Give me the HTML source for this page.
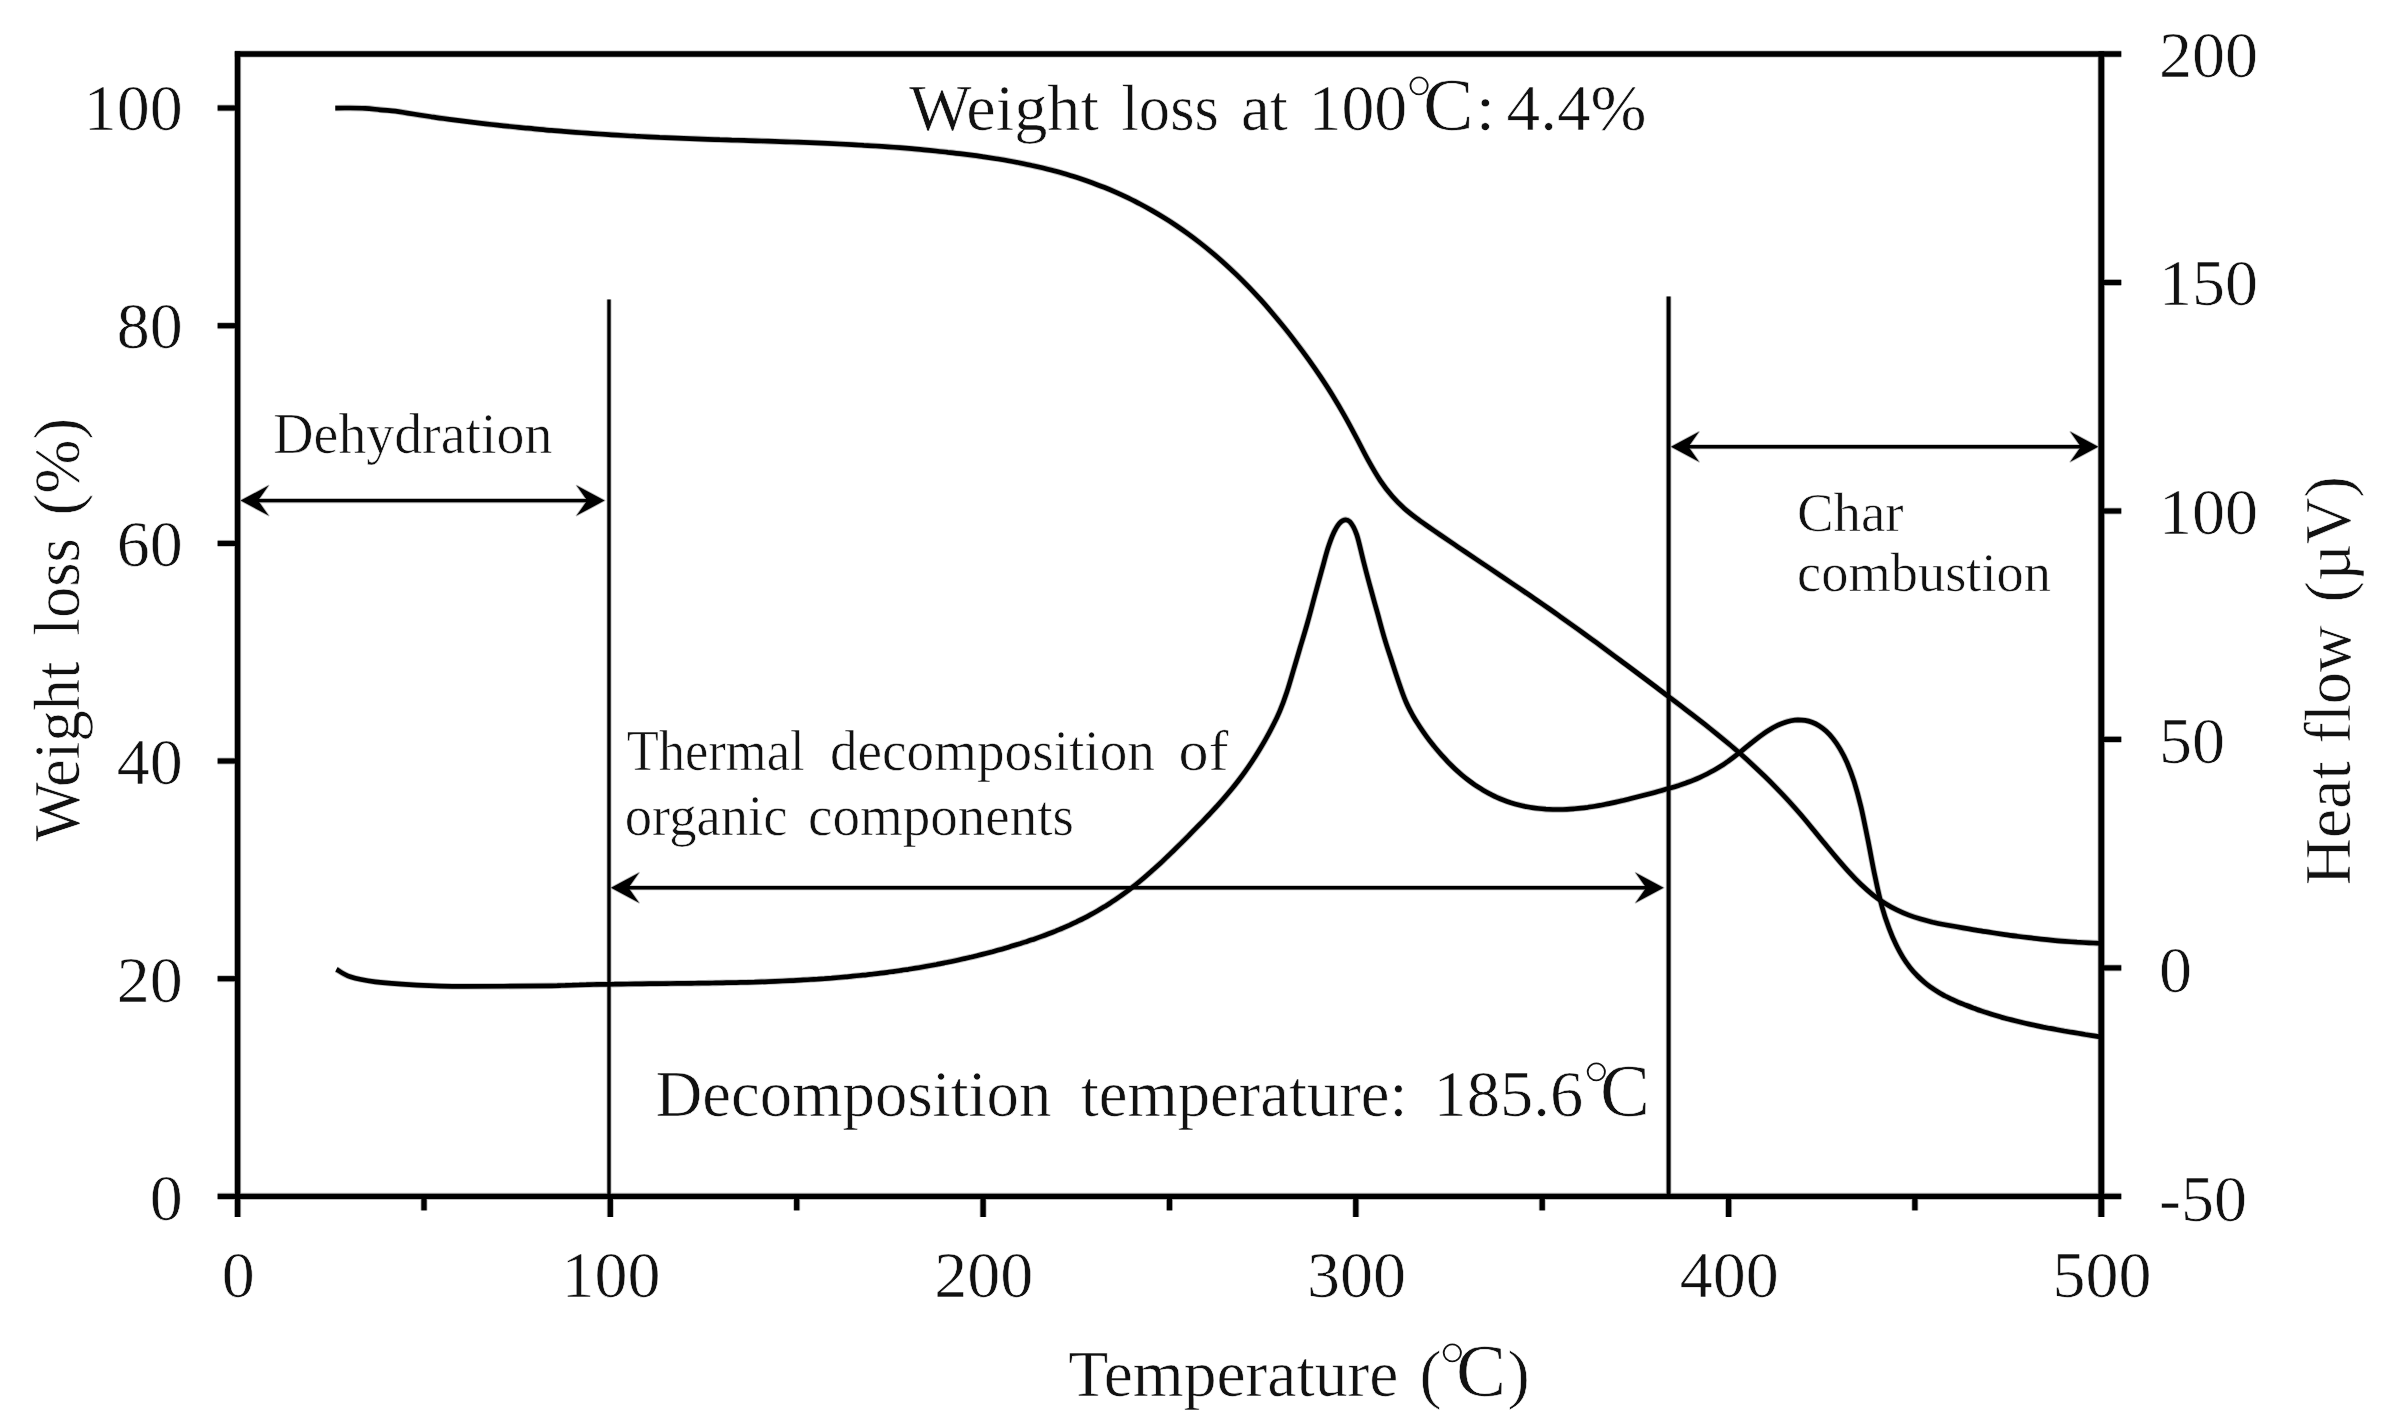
<!DOCTYPE html>
<html lang="en"><head><meta charset="utf-8"><title>TG-DTA curves</title>
<style>html,body{margin:0;padding:0;background:#fff;}body{width:2388px;height:1428px;overflow:hidden;}svg{display:block;}text{font-family:'Liberation Serif','Noto Serif CJK SC',serif;fill:#111;}</style>
</head><body>
<svg width="2388" height="1428" viewBox="0 0 2388 1428">
<rect width="2388" height="1428" fill="#fff"/>
<g opacity="0.26">
<g stroke="#000" fill="none" stroke-linecap="butt">
<line x1="237.6" y1="51.3" x2="237.6" y2="1216.9" stroke-width="7.1"/>
<line x1="2101.3" y1="51.3" x2="2101.3" y2="1216.9" stroke-width="7.5"/>
<line x1="234.9" y1="54.0" x2="2121.3" y2="54.0" stroke-width="7.1"/>
<line x1="217.6" y1="1196.4" x2="2121.3" y2="1196.4" stroke-width="7.1"/>
</g>
<g stroke="#000" stroke-width="6.9" fill="none" stroke-linecap="butt">
<line x1="217.6" y1="978.7" x2="237.6" y2="978.7"/>
<line x1="217.6" y1="761.0" x2="237.6" y2="761.0"/>
<line x1="217.6" y1="543.4" x2="237.6" y2="543.4"/>
<line x1="217.6" y1="325.7" x2="237.6" y2="325.7"/>
<line x1="217.6" y1="108.0" x2="237.6" y2="108.0"/>
<line x1="2101.3" y1="967.9" x2="2121.3" y2="967.9"/>
<line x1="2101.3" y1="739.4" x2="2121.3" y2="739.4"/>
<line x1="2101.3" y1="511.0" x2="2121.3" y2="511.0"/>
<line x1="2101.3" y1="282.5" x2="2121.3" y2="282.5"/>
</g>
<g stroke="#000" stroke-width="7.0" fill="none" stroke-linecap="butt">
<line x1="424.0" y1="1196.4" x2="424.0" y2="1210.4"/>
<line x1="610.3" y1="1196.4" x2="610.3" y2="1217.0"/>
<line x1="796.7" y1="1196.4" x2="796.7" y2="1210.4"/>
<line x1="983.1" y1="1196.4" x2="983.1" y2="1217.0"/>
<line x1="1169.5" y1="1196.4" x2="1169.5" y2="1210.4"/>
<line x1="1355.8" y1="1196.4" x2="1355.8" y2="1217.0"/>
<line x1="1542.2" y1="1196.4" x2="1542.2" y2="1210.4"/>
<line x1="1728.6" y1="1196.4" x2="1728.6" y2="1217.0"/>
<line x1="1914.9" y1="1196.4" x2="1914.9" y2="1210.4"/>
</g>
<g stroke="#000" stroke-width="6.4" fill="none" stroke-linecap="butt" stroke-linejoin="round">
<path d="M335.3 108.1 C337.8 108.1 345.0 108.0 350.0 108.0 C355.0 108.0 360.2 108.0 365.2 108.3 C370.2 108.6 375.0 109.3 380.0 109.8 C385.0 110.3 390.8 110.6 395.4 111.1 C400.0 111.7 403.4 112.5 407.4 113.1 C411.4 113.7 415.4 114.4 419.4 115.0 C423.4 115.6 427.4 116.2 431.4 116.8 C435.4 117.3 439.4 117.9 443.4 118.5 C447.4 119.0 451.5 119.6 455.5 120.1 C459.5 120.6 463.5 121.1 467.5 121.6 C471.5 122.1 475.5 122.6 479.5 123.1 C483.5 123.6 487.5 124.0 491.5 124.5 C495.5 124.9 499.5 125.4 503.5 125.8 C507.5 126.2 511.5 126.6 515.5 127.0 C519.5 127.5 523.5 127.8 527.5 128.2 C531.5 128.6 535.5 129.0 539.5 129.3 C543.5 129.7 547.5 130.1 551.5 130.4 C555.6 130.7 559.6 131.1 563.6 131.4 C567.6 131.7 571.6 132.0 575.6 132.3 C579.6 132.6 583.6 132.9 587.6 133.2 C591.6 133.5 595.6 133.7 599.6 134.0 C603.6 134.3 607.6 134.5 611.6 134.8 C615.6 135.0 619.6 135.3 623.6 135.5 C627.6 135.7 631.6 135.9 635.6 136.2 C639.6 136.4 643.6 136.6 647.6 136.8 C651.6 137.0 655.6 137.2 659.6 137.4 C663.7 137.5 667.7 137.7 671.7 137.9 C675.7 138.1 679.7 138.2 683.7 138.4 C687.7 138.5 691.7 138.7 695.7 138.8 C699.7 139.0 703.7 139.1 707.7 139.3 C711.7 139.4 715.7 139.5 719.7 139.7 C723.7 139.8 727.7 139.9 731.7 140.1 C735.7 140.2 739.7 140.3 743.7 140.4 C747.7 140.6 751.7 140.7 755.7 140.8 C759.7 140.9 763.7 141.1 767.7 141.2 C771.8 141.3 775.8 141.4 779.8 141.6 C783.8 141.7 787.8 141.9 791.8 142.0 C795.8 142.1 799.8 142.3 803.8 142.4 C807.8 142.6 811.8 142.7 815.8 142.9 C819.8 143.1 823.8 143.2 827.8 143.4 C831.8 143.6 835.8 143.8 839.8 144.0 C843.8 144.2 847.8 144.4 851.8 144.6 C855.8 144.8 859.8 145.0 863.8 145.3 C867.8 145.5 871.8 145.7 875.9 146.0 C879.9 146.3 883.9 146.5 887.9 146.8 C891.9 147.1 895.9 147.4 899.9 147.7 C903.9 148.0 907.9 148.4 911.9 148.7 C915.9 149.0 919.9 149.4 923.9 149.8 C927.9 150.2 931.9 150.6 935.9 151.0 C939.9 151.4 943.9 151.8 947.9 152.3 C951.9 152.7 955.9 153.2 959.9 153.7 C963.9 154.2 967.9 154.7 971.9 155.2 C975.9 155.7 979.9 156.3 984.0 156.9 C988.0 157.5 992.0 158.1 996.0 158.7 C1000.0 159.3 1004.0 160.0 1008.0 160.7 C1012.0 161.4 1016.0 162.2 1020.0 163.0 C1024.0 163.8 1028.0 164.6 1032.0 165.5 C1036.0 166.3 1040.0 167.3 1044.0 168.2 C1048.0 169.2 1052.0 170.2 1056.0 171.3 C1060.0 172.4 1064.0 173.5 1068.0 174.7 C1072.0 175.9 1076.0 177.2 1080.0 178.5 C1084.0 179.8 1088.0 181.2 1092.1 182.7 C1096.1 184.2 1100.1 185.7 1104.1 187.3 C1108.1 188.9 1112.1 190.6 1116.1 192.4 C1120.1 194.1 1124.1 196.0 1128.1 197.9 C1132.1 199.9 1136.1 201.9 1140.1 204.0 C1144.1 206.1 1148.1 208.3 1152.1 210.6 C1156.1 212.9 1160.1 215.3 1164.1 217.8 C1168.1 220.2 1172.1 222.8 1176.1 225.5 C1180.1 228.2 1184.1 231.0 1188.1 233.9 C1192.1 236.8 1196.2 239.9 1200.2 243.0 C1204.2 246.1 1208.2 249.4 1212.2 252.8 C1216.2 256.1 1220.2 259.6 1224.2 263.2 C1228.2 266.8 1232.2 270.6 1236.2 274.4 C1240.2 278.3 1244.2 282.3 1248.2 286.4 C1252.2 290.6 1256.2 294.8 1260.2 299.2 C1264.2 303.6 1268.2 308.2 1272.2 312.9 C1276.2 317.6 1280.2 322.4 1284.2 327.4 C1288.2 332.3 1292.2 337.5 1296.2 342.8 C1300.2 348.0 1304.3 353.5 1308.3 359.1 C1312.3 364.7 1316.3 370.4 1320.3 376.4 C1324.3 382.4 1328.3 388.5 1332.3 395.0 C1336.3 401.5 1340.3 408.2 1344.3 415.3 C1348.3 422.3 1352.3 429.9 1356.3 437.5 C1360.3 445.0 1364.3 453.2 1368.3 460.4 C1372.3 467.6 1376.3 474.6 1380.3 480.6 C1384.3 486.6 1388.3 491.7 1392.3 496.3 C1396.3 501.0 1400.3 504.8 1404.3 508.4 C1408.4 512.1 1412.4 515.1 1416.4 518.1 C1420.4 521.2 1424.4 523.9 1428.4 526.7 C1432.4 529.5 1436.4 532.2 1440.4 535.0 C1444.4 537.7 1448.4 540.4 1452.4 543.1 C1456.4 545.9 1460.4 548.6 1464.4 551.3 C1468.4 554.0 1472.4 556.7 1476.4 559.4 C1480.4 562.1 1484.4 564.8 1488.4 567.4 C1492.4 570.1 1496.4 572.8 1500.4 575.5 C1504.4 578.2 1508.4 580.9 1512.4 583.6 C1516.5 586.3 1520.5 589.0 1524.5 591.8 C1528.5 594.5 1532.5 597.2 1536.5 600.0 C1540.5 602.8 1544.5 605.5 1548.5 608.3 C1552.5 611.1 1556.5 613.9 1560.5 616.8 C1564.5 619.6 1568.5 622.5 1572.5 625.3 C1576.5 628.2 1580.5 631.1 1584.5 634.0 C1588.5 636.9 1592.5 639.8 1596.5 642.7 C1600.5 645.7 1604.5 648.6 1608.5 651.6 C1612.5 654.6 1616.5 657.5 1620.5 660.5 C1624.6 663.5 1628.6 666.5 1632.6 669.5 C1636.6 672.5 1640.6 675.5 1644.6 678.5 C1648.6 681.5 1652.6 684.5 1656.6 687.5 C1660.6 690.6 1664.6 693.6 1668.6 696.6 C1672.6 699.6 1676.6 702.7 1680.6 705.7 C1684.6 708.8 1688.6 711.8 1692.6 714.9 C1696.6 718.0 1700.6 721.1 1704.6 724.2 C1708.6 727.4 1712.6 730.6 1716.6 733.8 C1720.6 737.1 1724.6 740.4 1728.7 743.8 C1732.7 747.1 1736.7 750.6 1740.7 754.1 C1744.7 757.6 1748.7 761.2 1752.7 764.9 C1756.7 768.6 1760.7 772.4 1764.7 776.3 C1768.7 780.2 1772.7 784.2 1776.7 788.3 C1780.7 792.4 1784.7 796.6 1788.7 801.0 C1792.7 805.4 1796.7 809.9 1800.7 814.5 C1804.7 819.2 1808.7 824.0 1812.7 828.9 C1816.7 833.7 1820.7 838.7 1824.7 843.6 C1828.7 848.4 1832.7 853.4 1836.8 858.1 C1840.8 862.8 1844.8 867.5 1848.8 871.8 C1852.8 876.2 1856.8 880.4 1860.8 884.3 C1864.8 888.1 1868.8 891.6 1872.8 894.8 C1876.8 898.0 1880.8 900.7 1884.8 903.3 C1888.8 905.8 1892.8 908.0 1896.8 909.9 C1900.8 911.9 1904.8 913.6 1908.8 915.1 C1912.8 916.6 1916.8 917.9 1920.8 919.1 C1924.8 920.3 1928.8 921.2 1932.8 922.2 C1936.8 923.1 1940.8 923.9 1944.9 924.7 C1948.9 925.4 1952.9 926.1 1956.9 926.8 C1960.9 927.6 1964.9 928.3 1968.9 928.9 C1972.9 929.6 1976.9 930.3 1980.9 930.9 C1984.9 931.6 1988.9 932.2 1992.9 932.8 C1996.9 933.4 2000.9 934.0 2004.9 934.6 C2008.9 935.2 2012.9 935.7 2016.9 936.2 C2020.9 936.8 2024.9 937.3 2028.9 937.7 C2032.9 938.2 2036.9 938.7 2040.9 939.1 C2044.9 939.5 2049.0 939.9 2053.0 940.3 C2057.0 940.7 2061.0 941.0 2065.0 941.3 C2069.0 941.6 2073.0 941.9 2077.0 942.2 C2081.0 942.4 2085.0 942.6 2089.0 942.8 C2093.0 943.0 2099.0 943.2 2101.0 943.3"/>
<path d="M336.4 969.3 C338.7 970.5 343.8 974.7 350.3 976.8 C356.8 978.9 364.9 980.5 375.4 981.9 C385.9 983.2 398.5 984.1 413.1 984.9 C427.8 985.6 440.3 986.3 463.3 986.4 C486.3 986.5 535.5 985.9 551.3 985.8 C567.1 985.6 556.0 985.6 558.3 985.5 C560.6 985.4 563.0 985.3 565.3 985.3 C567.6 985.2 570.0 985.1 572.3 985.1 C574.6 985.0 577.0 984.9 579.3 984.9 C581.7 984.8 584.0 984.7 586.3 984.7 C588.7 984.6 591.0 984.6 593.3 984.5 C595.7 984.5 598.0 984.4 600.3 984.4 C602.7 984.4 605.0 984.3 607.3 984.3 C609.7 984.2 612.0 984.2 614.3 984.2 C616.7 984.1 619.0 984.1 621.3 984.1 C623.7 984.0 626.0 984.0 628.3 984.0 C630.7 983.9 633.0 983.9 635.3 983.9 C637.7 983.9 640.0 983.8 642.4 983.8 C644.7 983.8 647.0 983.8 649.4 983.7 C651.7 983.7 654.0 983.7 656.4 983.7 C658.7 983.6 661.0 983.6 663.4 983.6 C665.7 983.6 668.0 983.5 670.4 983.5 C672.7 983.5 675.0 983.5 677.4 983.4 C679.7 983.4 682.0 983.4 684.4 983.4 C686.7 983.3 689.0 983.3 691.4 983.3 C693.7 983.3 696.1 983.2 698.4 983.2 C700.7 983.2 703.1 983.1 705.4 983.1 C707.7 983.1 710.1 983.0 712.4 983.0 C714.7 983.0 717.1 982.9 719.4 982.9 C721.7 982.8 724.1 982.8 726.4 982.7 C728.7 982.7 731.1 982.7 733.4 982.6 C735.7 982.6 738.1 982.5 740.4 982.4 C742.7 982.4 745.1 982.3 747.4 982.3 C749.7 982.2 752.1 982.1 754.4 982.1 C756.8 982.0 759.1 981.9 761.4 981.8 C763.8 981.8 766.1 981.7 768.4 981.6 C770.8 981.5 773.1 981.4 775.4 981.3 C777.8 981.2 780.1 981.1 782.4 981.0 C784.8 980.9 787.1 980.8 789.4 980.7 C791.8 980.6 794.1 980.5 796.4 980.3 C798.8 980.2 801.1 980.1 803.4 979.9 C805.8 979.8 808.1 979.7 810.5 979.5 C812.8 979.4 815.1 979.2 817.5 979.1 C819.8 978.9 822.1 978.7 824.5 978.6 C826.8 978.4 829.1 978.2 831.5 978.1 C833.8 977.9 836.1 977.7 838.5 977.5 C840.8 977.3 843.1 977.1 845.5 976.9 C847.8 976.7 850.1 976.4 852.5 976.2 C854.8 976.0 857.1 975.8 859.5 975.5 C861.8 975.3 864.1 975.0 866.5 974.8 C868.8 974.5 871.2 974.3 873.5 974.0 C875.8 973.7 878.2 973.4 880.5 973.1 C882.8 972.9 885.2 972.6 887.5 972.3 C889.8 972.0 892.2 971.6 894.5 971.3 C896.8 971.0 899.2 970.7 901.5 970.3 C903.8 970.0 906.2 969.6 908.5 969.3 C910.8 968.9 913.2 968.5 915.5 968.1 C917.8 967.8 920.2 967.4 922.5 967.0 C924.9 966.6 927.2 966.2 929.5 965.7 C931.9 965.3 934.2 964.9 936.5 964.5 C938.9 964.0 941.2 963.6 943.5 963.1 C945.9 962.6 948.2 962.2 950.5 961.7 C952.9 961.2 955.2 960.7 957.5 960.2 C959.9 959.7 962.2 959.2 964.5 958.6 C966.9 958.1 969.2 957.5 971.5 957.0 C973.9 956.4 976.2 955.9 978.5 955.3 C980.9 954.7 983.2 954.1 985.6 953.5 C987.9 952.9 990.2 952.3 992.6 951.7 C994.9 951.0 997.2 950.4 999.6 949.7 C1001.9 949.1 1004.2 948.4 1006.6 947.7 C1008.9 947.0 1011.2 946.4 1013.6 945.6 C1015.9 944.9 1018.2 944.2 1020.6 943.5 C1022.9 942.7 1025.2 942.0 1027.6 941.2 C1029.9 940.4 1032.2 939.7 1034.6 938.9 C1036.9 938.1 1039.3 937.2 1041.6 936.4 C1043.9 935.6 1046.3 934.7 1048.6 933.8 C1050.9 932.9 1053.3 932.0 1055.6 931.1 C1057.9 930.1 1060.3 929.2 1062.6 928.2 C1064.9 927.2 1067.3 926.1 1069.6 925.1 C1071.9 924.0 1074.3 922.9 1076.6 921.8 C1078.9 920.7 1081.3 919.6 1083.6 918.4 C1085.9 917.2 1088.3 915.9 1090.6 914.7 C1092.9 913.4 1095.3 912.1 1097.6 910.8 C1100.0 909.4 1102.3 908.0 1104.6 906.6 C1107.0 905.1 1109.3 903.7 1111.6 902.1 C1114.0 900.6 1116.3 899.1 1118.6 897.4 C1121.0 895.8 1123.3 894.1 1125.6 892.4 C1128.0 890.7 1130.3 888.9 1132.6 887.1 C1135.0 885.3 1137.3 883.4 1139.6 881.5 C1142.0 879.5 1144.3 877.6 1146.6 875.5 C1149.0 873.5 1151.3 871.4 1153.7 869.3 C1156.0 867.2 1158.3 865.1 1160.7 862.9 C1163.0 860.8 1165.3 858.5 1167.7 856.3 C1170.0 854.1 1172.3 851.8 1174.7 849.5 C1177.0 847.2 1179.3 844.9 1181.7 842.6 C1184.0 840.3 1186.3 837.9 1188.7 835.6 C1191.0 833.2 1193.3 830.8 1195.7 828.4 C1198.0 826.1 1200.3 823.7 1202.7 821.3 C1205.0 818.9 1207.3 816.4 1209.7 814.0 C1212.0 811.5 1214.4 809.0 1216.7 806.4 C1219.0 803.9 1221.4 801.3 1223.7 798.6 C1226.0 795.9 1228.4 793.1 1230.7 790.3 C1233.0 787.5 1235.4 784.5 1237.7 781.5 C1240.0 778.5 1242.4 775.4 1244.7 772.1 C1247.0 768.9 1249.4 765.5 1251.7 762.0 C1254.0 758.5 1256.4 754.8 1258.7 751.0 C1261.0 747.2 1263.4 743.2 1265.7 739.1 C1268.1 734.9 1270.4 730.6 1272.7 726.0 C1275.1 721.4 1277.4 716.9 1279.7 711.3 C1282.1 705.7 1284.4 699.5 1286.7 692.5 C1289.1 685.5 1291.4 677.1 1293.7 669.3 C1296.1 661.5 1298.4 653.5 1300.7 645.6 C1303.1 637.7 1305.4 630.3 1307.7 622.0 C1310.1 613.7 1312.4 604.6 1314.7 596.0 C1317.1 587.4 1319.4 578.8 1321.7 570.4 C1324.1 562.0 1326.4 552.5 1328.8 545.6 C1331.1 538.6 1333.4 532.8 1335.8 528.7 C1338.1 524.5 1340.4 521.8 1342.8 520.6 C1345.1 519.4 1347.4 519.3 1349.8 521.7 C1352.1 524.1 1354.4 528.1 1356.8 534.9 C1359.1 541.7 1361.4 553.5 1363.8 562.5 C1366.1 571.5 1368.4 580.3 1370.8 588.9 C1373.1 597.5 1375.4 605.7 1377.8 614.2 C1380.1 622.6 1382.4 631.6 1384.8 639.4 C1387.1 647.3 1389.5 654.1 1391.8 661.2 C1394.1 668.4 1396.5 675.7 1398.8 682.4 C1401.1 689.2 1403.5 696.0 1405.8 701.5 C1408.1 707.1 1410.5 711.3 1412.8 715.5 C1415.1 719.7 1417.5 723.2 1419.8 726.8 C1422.1 730.4 1424.5 733.7 1426.8 736.8 C1429.1 740.0 1431.5 743.0 1433.8 745.9 C1436.1 748.8 1438.5 751.5 1440.8 754.2 C1443.2 756.8 1445.5 759.4 1447.8 761.8 C1450.2 764.2 1452.5 766.5 1454.8 768.7 C1457.2 770.9 1459.5 772.9 1461.8 774.9 C1464.2 776.9 1466.5 778.8 1468.8 780.5 C1471.2 782.3 1473.5 784.0 1475.8 785.6 C1478.2 787.1 1480.5 788.6 1482.8 790.0 C1485.2 791.4 1487.5 792.7 1489.8 793.9 C1492.2 795.1 1494.5 796.3 1496.8 797.3 C1499.2 798.4 1501.5 799.3 1503.9 800.2 C1506.2 801.1 1508.5 801.9 1510.9 802.7 C1513.2 803.4 1515.5 804.1 1517.9 804.7 C1520.2 805.3 1522.5 805.9 1524.9 806.4 C1527.2 806.8 1529.5 807.3 1531.9 807.6 C1534.2 808.0 1536.5 808.3 1538.9 808.5 C1541.2 808.8 1543.5 809.0 1545.9 809.2 C1548.2 809.3 1550.5 809.4 1552.9 809.5 C1555.2 809.5 1557.6 809.5 1559.9 809.5 C1562.2 809.5 1564.6 809.4 1566.9 809.3 C1569.2 809.2 1571.6 809.0 1573.9 808.8 C1576.2 808.6 1578.6 808.4 1580.9 808.1 C1583.2 807.9 1585.6 807.6 1587.9 807.3 C1590.2 806.9 1592.6 806.6 1594.9 806.2 C1597.2 805.8 1599.6 805.4 1601.9 805.0 C1604.2 804.5 1606.6 804.1 1608.9 803.6 C1611.2 803.1 1613.6 802.6 1615.9 802.1 C1618.3 801.6 1620.6 801.0 1622.9 800.5 C1625.3 799.9 1627.6 799.4 1629.9 798.8 C1632.3 798.2 1634.6 797.6 1636.9 797.0 C1639.3 796.4 1641.6 795.8 1643.9 795.2 C1646.3 794.6 1648.6 794.0 1650.9 793.4 C1653.3 792.8 1655.6 792.2 1657.9 791.5 C1660.3 790.9 1662.6 790.3 1664.9 789.6 C1667.3 788.9 1669.6 788.3 1672.0 787.6 C1674.3 786.9 1676.6 786.1 1679.0 785.4 C1681.3 784.6 1683.6 783.8 1686.0 783.0 C1688.3 782.1 1690.6 781.3 1693.0 780.3 C1695.3 779.4 1697.6 778.4 1700.0 777.3 C1702.3 776.3 1704.6 775.2 1707.0 774.0 C1709.3 772.8 1711.6 771.6 1714.0 770.3 C1716.3 769.0 1718.6 767.6 1721.0 766.1 C1723.3 764.6 1725.6 763.0 1728.0 761.4 C1730.3 759.7 1732.7 757.9 1735.0 756.1 C1737.3 754.3 1739.7 752.4 1742.0 750.6 C1744.3 748.7 1746.7 746.7 1749.0 744.9 C1751.3 743.0 1753.7 741.1 1756.0 739.3 C1758.3 737.5 1760.7 735.7 1763.0 734.1 C1765.3 732.4 1767.7 730.9 1770.0 729.5 C1772.3 728.0 1774.7 726.7 1777.0 725.6 C1779.3 724.5 1781.7 723.5 1784.0 722.7 C1786.4 721.8 1788.7 721.2 1791.0 720.7 C1793.4 720.3 1795.7 720.0 1798.0 719.9 C1800.4 719.9 1802.7 720.0 1805.0 720.4 C1807.4 720.8 1809.7 721.4 1812.0 722.3 C1814.4 723.2 1816.7 724.3 1819.0 725.7 C1821.4 727.2 1823.7 728.9 1826.0 731.0 C1828.4 733.2 1830.7 735.6 1833.0 738.6 C1835.4 741.6 1837.7 744.9 1840.0 748.9 C1842.4 753.0 1844.7 757.3 1847.1 762.7 C1849.4 768.1 1851.7 774.1 1854.1 781.5 C1856.4 788.9 1858.7 797.3 1861.1 807.2 C1863.4 817.1 1865.7 829.2 1868.1 840.8 C1870.4 852.4 1872.7 865.8 1875.1 876.8 C1877.4 887.9 1879.7 898.6 1882.1 907.1 C1884.4 915.7 1886.7 922.0 1889.1 928.3 C1891.4 934.5 1893.7 939.8 1896.1 944.7 C1898.4 949.6 1900.8 953.7 1903.1 957.6 C1905.4 961.4 1907.8 964.6 1910.1 967.6 C1912.4 970.6 1914.8 973.1 1917.1 975.5 C1919.4 977.9 1921.8 980.0 1924.1 982.0 C1926.4 984.0 1928.8 985.7 1931.1 987.4 C1933.4 989.1 1935.8 990.6 1938.1 992.0 C1940.4 993.5 1942.8 994.7 1945.1 996.0 C1947.4 997.2 1949.8 998.3 1952.1 999.4 C1954.4 1000.5 1956.8 1001.5 1959.1 1002.5 C1961.5 1003.4 1963.8 1004.4 1966.1 1005.3 C1968.5 1006.2 1970.8 1007.1 1973.1 1008.0 C1975.5 1008.8 1977.8 1009.7 1980.1 1010.5 C1982.5 1011.3 1984.8 1012.1 1987.1 1012.8 C1989.5 1013.6 1991.8 1014.3 1994.1 1015.0 C1996.5 1015.7 1998.8 1016.4 2001.1 1017.1 C2003.5 1017.7 2005.8 1018.4 2008.1 1019.0 C2010.5 1019.6 2012.8 1020.2 2015.2 1020.8 C2017.5 1021.4 2019.8 1022.0 2022.2 1022.5 C2024.5 1023.1 2026.8 1023.6 2029.2 1024.1 C2031.5 1024.6 2033.8 1025.1 2036.2 1025.6 C2038.5 1026.1 2040.8 1026.6 2043.2 1027.1 C2045.5 1027.5 2047.8 1028.0 2050.2 1028.4 C2052.5 1028.9 2054.8 1029.3 2057.2 1029.7 C2059.5 1030.1 2061.8 1030.5 2064.2 1031.0 C2066.5 1031.4 2068.8 1031.8 2071.2 1032.2 C2073.5 1032.5 2075.9 1032.9 2078.2 1033.3 C2080.5 1033.7 2082.9 1034.1 2085.2 1034.5 C2087.5 1034.8 2089.9 1035.2 2092.2 1035.6 C2094.5 1036.0 2098.0 1036.5 2099.2 1036.7"/>
</g>
<g stroke="#000" fill="none">
<line x1="609.0" y1="299.6" x2="609.0" y2="1196.4" stroke-width="5.0"/>
<line x1="1668.6" y1="296.6" x2="1668.6" y2="1196.4" stroke-width="5.6"/>
<line x1="255" y1="500.6" x2="592" y2="500.6" stroke-width="5.1"/>
<line x1="625" y1="887.7" x2="1650" y2="887.7" stroke-width="5.1"/>
<line x1="1685" y1="446.8" x2="2084" y2="446.8" stroke-width="5.1"/>
</g>
<path d="M240.6 500.6 L268.6 485.6 L258.1 500.6 L268.6 515.6 Z" fill="#000" stroke="#000" stroke-width="1.7" stroke-linejoin="round"/>
<path d="M604.6 500.6 L576.6 485.6 L587.1 500.6 L576.6 515.6 Z" fill="#000" stroke="#000" stroke-width="1.7" stroke-linejoin="round"/>
<path d="M611.0 887.7 L639.0 872.7 L628.5 887.7 L639.0 902.7 Z" fill="#000" stroke="#000" stroke-width="1.7" stroke-linejoin="round"/>
<path d="M1663.6 887.7 L1635.6 872.7 L1646.1 887.7 L1635.6 902.7 Z" fill="#000" stroke="#000" stroke-width="1.7" stroke-linejoin="round"/>
<path d="M1671.0 446.8 L1699.0 431.8 L1688.5 446.8 L1699.0 461.8 Z" fill="#000" stroke="#000" stroke-width="1.7" stroke-linejoin="round"/>
<path d="M2098.3 446.8 L2070.3 431.8 L2080.8 446.8 L2070.3 461.8 Z" fill="#000" stroke="#000" stroke-width="1.7" stroke-linejoin="round"/>
</g>
<g stroke="#000" fill="none" stroke-linecap="butt">
<line x1="237.6" y1="51.3" x2="237.6" y2="1216.9" stroke-width="5.4"/>
<line x1="2101.3" y1="51.3" x2="2101.3" y2="1216.9" stroke-width="5.8"/>
<line x1="234.9" y1="54.0" x2="2121.3" y2="54.0" stroke-width="5.4"/>
<line x1="217.6" y1="1196.4" x2="2121.3" y2="1196.4" stroke-width="5.4"/>
</g>
<g stroke="#000" stroke-width="5.2" fill="none" stroke-linecap="butt">
<line x1="217.6" y1="978.7" x2="237.6" y2="978.7"/>
<line x1="217.6" y1="761.0" x2="237.6" y2="761.0"/>
<line x1="217.6" y1="543.4" x2="237.6" y2="543.4"/>
<line x1="217.6" y1="325.7" x2="237.6" y2="325.7"/>
<line x1="217.6" y1="108.0" x2="237.6" y2="108.0"/>
<line x1="2101.3" y1="967.9" x2="2121.3" y2="967.9"/>
<line x1="2101.3" y1="739.4" x2="2121.3" y2="739.4"/>
<line x1="2101.3" y1="511.0" x2="2121.3" y2="511.0"/>
<line x1="2101.3" y1="282.5" x2="2121.3" y2="282.5"/>
</g>
<g stroke="#000" stroke-width="5.3" fill="none" stroke-linecap="butt">
<line x1="424.0" y1="1196.4" x2="424.0" y2="1210.4"/>
<line x1="610.3" y1="1196.4" x2="610.3" y2="1217.0"/>
<line x1="796.7" y1="1196.4" x2="796.7" y2="1210.4"/>
<line x1="983.1" y1="1196.4" x2="983.1" y2="1217.0"/>
<line x1="1169.5" y1="1196.4" x2="1169.5" y2="1210.4"/>
<line x1="1355.8" y1="1196.4" x2="1355.8" y2="1217.0"/>
<line x1="1542.2" y1="1196.4" x2="1542.2" y2="1210.4"/>
<line x1="1728.6" y1="1196.4" x2="1728.6" y2="1217.0"/>
<line x1="1914.9" y1="1196.4" x2="1914.9" y2="1210.4"/>
</g>
<g stroke="#000" stroke-width="4.7" fill="none" stroke-linecap="butt" stroke-linejoin="round">
<path d="M335.3 108.1 C337.8 108.1 345.0 108.0 350.0 108.0 C355.0 108.0 360.2 108.0 365.2 108.3 C370.2 108.6 375.0 109.3 380.0 109.8 C385.0 110.3 390.8 110.6 395.4 111.1 C400.0 111.7 403.4 112.5 407.4 113.1 C411.4 113.7 415.4 114.4 419.4 115.0 C423.4 115.6 427.4 116.2 431.4 116.8 C435.4 117.3 439.4 117.9 443.4 118.5 C447.4 119.0 451.5 119.6 455.5 120.1 C459.5 120.6 463.5 121.1 467.5 121.6 C471.5 122.1 475.5 122.6 479.5 123.1 C483.5 123.6 487.5 124.0 491.5 124.5 C495.5 124.9 499.5 125.4 503.5 125.8 C507.5 126.2 511.5 126.6 515.5 127.0 C519.5 127.5 523.5 127.8 527.5 128.2 C531.5 128.6 535.5 129.0 539.5 129.3 C543.5 129.7 547.5 130.1 551.5 130.4 C555.6 130.7 559.6 131.1 563.6 131.4 C567.6 131.7 571.6 132.0 575.6 132.3 C579.6 132.6 583.6 132.9 587.6 133.2 C591.6 133.5 595.6 133.7 599.6 134.0 C603.6 134.3 607.6 134.5 611.6 134.8 C615.6 135.0 619.6 135.3 623.6 135.5 C627.6 135.7 631.6 135.9 635.6 136.2 C639.6 136.4 643.6 136.6 647.6 136.8 C651.6 137.0 655.6 137.2 659.6 137.4 C663.7 137.5 667.7 137.7 671.7 137.9 C675.7 138.1 679.7 138.2 683.7 138.4 C687.7 138.5 691.7 138.7 695.7 138.8 C699.7 139.0 703.7 139.1 707.7 139.3 C711.7 139.4 715.7 139.5 719.7 139.7 C723.7 139.8 727.7 139.9 731.7 140.1 C735.7 140.2 739.7 140.3 743.7 140.4 C747.7 140.6 751.7 140.7 755.7 140.8 C759.7 140.9 763.7 141.1 767.7 141.2 C771.8 141.3 775.8 141.4 779.8 141.6 C783.8 141.7 787.8 141.9 791.8 142.0 C795.8 142.1 799.8 142.3 803.8 142.4 C807.8 142.6 811.8 142.7 815.8 142.9 C819.8 143.1 823.8 143.2 827.8 143.4 C831.8 143.6 835.8 143.8 839.8 144.0 C843.8 144.2 847.8 144.4 851.8 144.6 C855.8 144.8 859.8 145.0 863.8 145.3 C867.8 145.5 871.8 145.7 875.9 146.0 C879.9 146.3 883.9 146.5 887.9 146.8 C891.9 147.1 895.9 147.4 899.9 147.7 C903.9 148.0 907.9 148.4 911.9 148.7 C915.9 149.0 919.9 149.4 923.9 149.8 C927.9 150.2 931.9 150.6 935.9 151.0 C939.9 151.4 943.9 151.8 947.9 152.3 C951.9 152.7 955.9 153.2 959.9 153.7 C963.9 154.2 967.9 154.7 971.9 155.2 C975.9 155.7 979.9 156.3 984.0 156.9 C988.0 157.5 992.0 158.1 996.0 158.7 C1000.0 159.3 1004.0 160.0 1008.0 160.7 C1012.0 161.4 1016.0 162.2 1020.0 163.0 C1024.0 163.8 1028.0 164.6 1032.0 165.5 C1036.0 166.3 1040.0 167.3 1044.0 168.2 C1048.0 169.2 1052.0 170.2 1056.0 171.3 C1060.0 172.4 1064.0 173.5 1068.0 174.7 C1072.0 175.9 1076.0 177.2 1080.0 178.5 C1084.0 179.8 1088.0 181.2 1092.1 182.7 C1096.1 184.2 1100.1 185.7 1104.1 187.3 C1108.1 188.9 1112.1 190.6 1116.1 192.4 C1120.1 194.1 1124.1 196.0 1128.1 197.9 C1132.1 199.9 1136.1 201.9 1140.1 204.0 C1144.1 206.1 1148.1 208.3 1152.1 210.6 C1156.1 212.9 1160.1 215.3 1164.1 217.8 C1168.1 220.2 1172.1 222.8 1176.1 225.5 C1180.1 228.2 1184.1 231.0 1188.1 233.9 C1192.1 236.8 1196.2 239.9 1200.2 243.0 C1204.2 246.1 1208.2 249.4 1212.2 252.8 C1216.2 256.1 1220.2 259.6 1224.2 263.2 C1228.2 266.8 1232.2 270.6 1236.2 274.4 C1240.2 278.3 1244.2 282.3 1248.2 286.4 C1252.2 290.6 1256.2 294.8 1260.2 299.2 C1264.2 303.6 1268.2 308.2 1272.2 312.9 C1276.2 317.6 1280.2 322.4 1284.2 327.4 C1288.2 332.3 1292.2 337.5 1296.2 342.8 C1300.2 348.0 1304.3 353.5 1308.3 359.1 C1312.3 364.7 1316.3 370.4 1320.3 376.4 C1324.3 382.4 1328.3 388.5 1332.3 395.0 C1336.3 401.5 1340.3 408.2 1344.3 415.3 C1348.3 422.3 1352.3 429.9 1356.3 437.5 C1360.3 445.0 1364.3 453.2 1368.3 460.4 C1372.3 467.6 1376.3 474.6 1380.3 480.6 C1384.3 486.6 1388.3 491.7 1392.3 496.3 C1396.3 501.0 1400.3 504.8 1404.3 508.4 C1408.4 512.1 1412.4 515.1 1416.4 518.1 C1420.4 521.2 1424.4 523.9 1428.4 526.7 C1432.4 529.5 1436.4 532.2 1440.4 535.0 C1444.4 537.7 1448.4 540.4 1452.4 543.1 C1456.4 545.9 1460.4 548.6 1464.4 551.3 C1468.4 554.0 1472.4 556.7 1476.4 559.4 C1480.4 562.1 1484.4 564.8 1488.4 567.4 C1492.4 570.1 1496.4 572.8 1500.4 575.5 C1504.4 578.2 1508.4 580.9 1512.4 583.6 C1516.5 586.3 1520.5 589.0 1524.5 591.8 C1528.5 594.5 1532.5 597.2 1536.5 600.0 C1540.5 602.8 1544.5 605.5 1548.5 608.3 C1552.5 611.1 1556.5 613.9 1560.5 616.8 C1564.5 619.6 1568.5 622.5 1572.5 625.3 C1576.5 628.2 1580.5 631.1 1584.5 634.0 C1588.5 636.9 1592.5 639.8 1596.5 642.7 C1600.5 645.7 1604.5 648.6 1608.5 651.6 C1612.5 654.6 1616.5 657.5 1620.5 660.5 C1624.6 663.5 1628.6 666.5 1632.6 669.5 C1636.6 672.5 1640.6 675.5 1644.6 678.5 C1648.6 681.5 1652.6 684.5 1656.6 687.5 C1660.6 690.6 1664.6 693.6 1668.6 696.6 C1672.6 699.6 1676.6 702.7 1680.6 705.7 C1684.6 708.8 1688.6 711.8 1692.6 714.9 C1696.6 718.0 1700.6 721.1 1704.6 724.2 C1708.6 727.4 1712.6 730.6 1716.6 733.8 C1720.6 737.1 1724.6 740.4 1728.7 743.8 C1732.7 747.1 1736.7 750.6 1740.7 754.1 C1744.7 757.6 1748.7 761.2 1752.7 764.9 C1756.7 768.6 1760.7 772.4 1764.7 776.3 C1768.7 780.2 1772.7 784.2 1776.7 788.3 C1780.7 792.4 1784.7 796.6 1788.7 801.0 C1792.7 805.4 1796.7 809.9 1800.7 814.5 C1804.7 819.2 1808.7 824.0 1812.7 828.9 C1816.7 833.7 1820.7 838.7 1824.7 843.6 C1828.7 848.4 1832.7 853.4 1836.8 858.1 C1840.8 862.8 1844.8 867.5 1848.8 871.8 C1852.8 876.2 1856.8 880.4 1860.8 884.3 C1864.8 888.1 1868.8 891.6 1872.8 894.8 C1876.8 898.0 1880.8 900.7 1884.8 903.3 C1888.8 905.8 1892.8 908.0 1896.8 909.9 C1900.8 911.9 1904.8 913.6 1908.8 915.1 C1912.8 916.6 1916.8 917.9 1920.8 919.1 C1924.8 920.3 1928.8 921.2 1932.8 922.2 C1936.8 923.1 1940.8 923.9 1944.9 924.7 C1948.9 925.4 1952.9 926.1 1956.9 926.8 C1960.9 927.6 1964.9 928.3 1968.9 928.9 C1972.9 929.6 1976.9 930.3 1980.9 930.9 C1984.9 931.6 1988.9 932.2 1992.9 932.8 C1996.9 933.4 2000.9 934.0 2004.9 934.6 C2008.9 935.2 2012.9 935.7 2016.9 936.2 C2020.9 936.8 2024.9 937.3 2028.9 937.7 C2032.9 938.2 2036.9 938.7 2040.9 939.1 C2044.9 939.5 2049.0 939.9 2053.0 940.3 C2057.0 940.7 2061.0 941.0 2065.0 941.3 C2069.0 941.6 2073.0 941.9 2077.0 942.2 C2081.0 942.4 2085.0 942.6 2089.0 942.8 C2093.0 943.0 2099.0 943.2 2101.0 943.3"/>
<path d="M336.4 969.3 C338.7 970.5 343.8 974.7 350.3 976.8 C356.8 978.9 364.9 980.5 375.4 981.9 C385.9 983.2 398.5 984.1 413.1 984.9 C427.8 985.6 440.3 986.3 463.3 986.4 C486.3 986.5 535.5 985.9 551.3 985.8 C567.1 985.6 556.0 985.6 558.3 985.5 C560.6 985.4 563.0 985.3 565.3 985.3 C567.6 985.2 570.0 985.1 572.3 985.1 C574.6 985.0 577.0 984.9 579.3 984.9 C581.7 984.8 584.0 984.7 586.3 984.7 C588.7 984.6 591.0 984.6 593.3 984.5 C595.7 984.5 598.0 984.4 600.3 984.4 C602.7 984.4 605.0 984.3 607.3 984.3 C609.7 984.2 612.0 984.2 614.3 984.2 C616.7 984.1 619.0 984.1 621.3 984.1 C623.7 984.0 626.0 984.0 628.3 984.0 C630.7 983.9 633.0 983.9 635.3 983.9 C637.7 983.9 640.0 983.8 642.4 983.8 C644.7 983.8 647.0 983.8 649.4 983.7 C651.7 983.7 654.0 983.7 656.4 983.7 C658.7 983.6 661.0 983.6 663.4 983.6 C665.7 983.6 668.0 983.5 670.4 983.5 C672.7 983.5 675.0 983.5 677.4 983.4 C679.7 983.4 682.0 983.4 684.4 983.4 C686.7 983.3 689.0 983.3 691.4 983.3 C693.7 983.3 696.1 983.2 698.4 983.2 C700.7 983.2 703.1 983.1 705.4 983.1 C707.7 983.1 710.1 983.0 712.4 983.0 C714.7 983.0 717.1 982.9 719.4 982.9 C721.7 982.8 724.1 982.8 726.4 982.7 C728.7 982.7 731.1 982.7 733.4 982.6 C735.7 982.6 738.1 982.5 740.4 982.4 C742.7 982.4 745.1 982.3 747.4 982.3 C749.7 982.2 752.1 982.1 754.4 982.1 C756.8 982.0 759.1 981.9 761.4 981.8 C763.8 981.8 766.1 981.7 768.4 981.6 C770.8 981.5 773.1 981.4 775.4 981.3 C777.8 981.2 780.1 981.1 782.4 981.0 C784.8 980.9 787.1 980.8 789.4 980.7 C791.8 980.6 794.1 980.5 796.4 980.3 C798.8 980.2 801.1 980.1 803.4 979.9 C805.8 979.8 808.1 979.7 810.5 979.5 C812.8 979.4 815.1 979.2 817.5 979.1 C819.8 978.9 822.1 978.7 824.5 978.6 C826.8 978.4 829.1 978.2 831.5 978.1 C833.8 977.9 836.1 977.7 838.5 977.5 C840.8 977.3 843.1 977.1 845.5 976.9 C847.8 976.7 850.1 976.4 852.5 976.2 C854.8 976.0 857.1 975.8 859.5 975.5 C861.8 975.3 864.1 975.0 866.5 974.8 C868.8 974.5 871.2 974.3 873.5 974.0 C875.8 973.7 878.2 973.4 880.5 973.1 C882.8 972.9 885.2 972.6 887.5 972.3 C889.8 972.0 892.2 971.6 894.5 971.3 C896.8 971.0 899.2 970.7 901.5 970.3 C903.8 970.0 906.2 969.6 908.5 969.3 C910.8 968.9 913.2 968.5 915.5 968.1 C917.8 967.8 920.2 967.4 922.5 967.0 C924.9 966.6 927.2 966.2 929.5 965.7 C931.9 965.3 934.2 964.9 936.5 964.5 C938.9 964.0 941.2 963.6 943.5 963.1 C945.9 962.6 948.2 962.2 950.5 961.7 C952.9 961.2 955.2 960.7 957.5 960.2 C959.9 959.7 962.2 959.2 964.5 958.6 C966.9 958.1 969.2 957.5 971.5 957.0 C973.9 956.4 976.2 955.9 978.5 955.3 C980.9 954.7 983.2 954.1 985.6 953.5 C987.9 952.9 990.2 952.3 992.6 951.7 C994.9 951.0 997.2 950.4 999.6 949.7 C1001.9 949.1 1004.2 948.4 1006.6 947.7 C1008.9 947.0 1011.2 946.4 1013.6 945.6 C1015.9 944.9 1018.2 944.2 1020.6 943.5 C1022.9 942.7 1025.2 942.0 1027.6 941.2 C1029.9 940.4 1032.2 939.7 1034.6 938.9 C1036.9 938.1 1039.3 937.2 1041.6 936.4 C1043.9 935.6 1046.3 934.7 1048.6 933.8 C1050.9 932.9 1053.3 932.0 1055.6 931.1 C1057.9 930.1 1060.3 929.2 1062.6 928.2 C1064.9 927.2 1067.3 926.1 1069.6 925.1 C1071.9 924.0 1074.3 922.9 1076.6 921.8 C1078.9 920.7 1081.3 919.6 1083.6 918.4 C1085.9 917.2 1088.3 915.9 1090.6 914.7 C1092.9 913.4 1095.3 912.1 1097.6 910.8 C1100.0 909.4 1102.3 908.0 1104.6 906.6 C1107.0 905.1 1109.3 903.7 1111.6 902.1 C1114.0 900.6 1116.3 899.1 1118.6 897.4 C1121.0 895.8 1123.3 894.1 1125.6 892.4 C1128.0 890.7 1130.3 888.9 1132.6 887.1 C1135.0 885.3 1137.3 883.4 1139.6 881.5 C1142.0 879.5 1144.3 877.6 1146.6 875.5 C1149.0 873.5 1151.3 871.4 1153.7 869.3 C1156.0 867.2 1158.3 865.1 1160.7 862.9 C1163.0 860.8 1165.3 858.5 1167.7 856.3 C1170.0 854.1 1172.3 851.8 1174.7 849.5 C1177.0 847.2 1179.3 844.9 1181.7 842.6 C1184.0 840.3 1186.3 837.9 1188.7 835.6 C1191.0 833.2 1193.3 830.8 1195.7 828.4 C1198.0 826.1 1200.3 823.7 1202.7 821.3 C1205.0 818.9 1207.3 816.4 1209.7 814.0 C1212.0 811.5 1214.4 809.0 1216.7 806.4 C1219.0 803.9 1221.4 801.3 1223.7 798.6 C1226.0 795.9 1228.4 793.1 1230.7 790.3 C1233.0 787.5 1235.4 784.5 1237.7 781.5 C1240.0 778.5 1242.4 775.4 1244.7 772.1 C1247.0 768.9 1249.4 765.5 1251.7 762.0 C1254.0 758.5 1256.4 754.8 1258.7 751.0 C1261.0 747.2 1263.4 743.2 1265.7 739.1 C1268.1 734.9 1270.4 730.6 1272.7 726.0 C1275.1 721.4 1277.4 716.9 1279.7 711.3 C1282.1 705.7 1284.4 699.5 1286.7 692.5 C1289.1 685.5 1291.4 677.1 1293.7 669.3 C1296.1 661.5 1298.4 653.5 1300.7 645.6 C1303.1 637.7 1305.4 630.3 1307.7 622.0 C1310.1 613.7 1312.4 604.6 1314.7 596.0 C1317.1 587.4 1319.4 578.8 1321.7 570.4 C1324.1 562.0 1326.4 552.5 1328.8 545.6 C1331.1 538.6 1333.4 532.8 1335.8 528.7 C1338.1 524.5 1340.4 521.8 1342.8 520.6 C1345.1 519.4 1347.4 519.3 1349.8 521.7 C1352.1 524.1 1354.4 528.1 1356.8 534.9 C1359.1 541.7 1361.4 553.5 1363.8 562.5 C1366.1 571.5 1368.4 580.3 1370.8 588.9 C1373.1 597.5 1375.4 605.7 1377.8 614.2 C1380.1 622.6 1382.4 631.6 1384.8 639.4 C1387.1 647.3 1389.5 654.1 1391.8 661.2 C1394.1 668.4 1396.5 675.7 1398.8 682.4 C1401.1 689.2 1403.5 696.0 1405.8 701.5 C1408.1 707.1 1410.5 711.3 1412.8 715.5 C1415.1 719.7 1417.5 723.2 1419.8 726.8 C1422.1 730.4 1424.5 733.7 1426.8 736.8 C1429.1 740.0 1431.5 743.0 1433.8 745.9 C1436.1 748.8 1438.5 751.5 1440.8 754.2 C1443.2 756.8 1445.5 759.4 1447.8 761.8 C1450.2 764.2 1452.5 766.5 1454.8 768.7 C1457.2 770.9 1459.5 772.9 1461.8 774.9 C1464.2 776.9 1466.5 778.8 1468.8 780.5 C1471.2 782.3 1473.5 784.0 1475.8 785.6 C1478.2 787.1 1480.5 788.6 1482.8 790.0 C1485.2 791.4 1487.5 792.7 1489.8 793.9 C1492.2 795.1 1494.5 796.3 1496.8 797.3 C1499.2 798.4 1501.5 799.3 1503.9 800.2 C1506.2 801.1 1508.5 801.9 1510.9 802.7 C1513.2 803.4 1515.5 804.1 1517.9 804.7 C1520.2 805.3 1522.5 805.9 1524.9 806.4 C1527.2 806.8 1529.5 807.3 1531.9 807.6 C1534.2 808.0 1536.5 808.3 1538.9 808.5 C1541.2 808.8 1543.5 809.0 1545.9 809.2 C1548.2 809.3 1550.5 809.4 1552.9 809.5 C1555.2 809.5 1557.6 809.5 1559.9 809.5 C1562.2 809.5 1564.6 809.4 1566.9 809.3 C1569.2 809.2 1571.6 809.0 1573.9 808.8 C1576.2 808.6 1578.6 808.4 1580.9 808.1 C1583.2 807.9 1585.6 807.6 1587.9 807.3 C1590.2 806.9 1592.6 806.6 1594.9 806.2 C1597.2 805.8 1599.6 805.4 1601.9 805.0 C1604.2 804.5 1606.6 804.1 1608.9 803.6 C1611.2 803.1 1613.6 802.6 1615.9 802.1 C1618.3 801.6 1620.6 801.0 1622.9 800.5 C1625.3 799.9 1627.6 799.4 1629.9 798.8 C1632.3 798.2 1634.6 797.6 1636.9 797.0 C1639.3 796.4 1641.6 795.8 1643.9 795.2 C1646.3 794.6 1648.6 794.0 1650.9 793.4 C1653.3 792.8 1655.6 792.2 1657.9 791.5 C1660.3 790.9 1662.6 790.3 1664.9 789.6 C1667.3 788.9 1669.6 788.3 1672.0 787.6 C1674.3 786.9 1676.6 786.1 1679.0 785.4 C1681.3 784.6 1683.6 783.8 1686.0 783.0 C1688.3 782.1 1690.6 781.3 1693.0 780.3 C1695.3 779.4 1697.6 778.4 1700.0 777.3 C1702.3 776.3 1704.6 775.2 1707.0 774.0 C1709.3 772.8 1711.6 771.6 1714.0 770.3 C1716.3 769.0 1718.6 767.6 1721.0 766.1 C1723.3 764.6 1725.6 763.0 1728.0 761.4 C1730.3 759.7 1732.7 757.9 1735.0 756.1 C1737.3 754.3 1739.7 752.4 1742.0 750.6 C1744.3 748.7 1746.7 746.7 1749.0 744.9 C1751.3 743.0 1753.7 741.1 1756.0 739.3 C1758.3 737.5 1760.7 735.7 1763.0 734.1 C1765.3 732.4 1767.7 730.9 1770.0 729.5 C1772.3 728.0 1774.7 726.7 1777.0 725.6 C1779.3 724.5 1781.7 723.5 1784.0 722.7 C1786.4 721.8 1788.7 721.2 1791.0 720.7 C1793.4 720.3 1795.7 720.0 1798.0 719.9 C1800.4 719.9 1802.7 720.0 1805.0 720.4 C1807.4 720.8 1809.7 721.4 1812.0 722.3 C1814.4 723.2 1816.7 724.3 1819.0 725.7 C1821.4 727.2 1823.7 728.9 1826.0 731.0 C1828.4 733.2 1830.7 735.6 1833.0 738.6 C1835.4 741.6 1837.7 744.9 1840.0 748.9 C1842.4 753.0 1844.7 757.3 1847.1 762.7 C1849.4 768.1 1851.7 774.1 1854.1 781.5 C1856.4 788.9 1858.7 797.3 1861.1 807.2 C1863.4 817.1 1865.7 829.2 1868.1 840.8 C1870.4 852.4 1872.7 865.8 1875.1 876.8 C1877.4 887.9 1879.7 898.6 1882.1 907.1 C1884.4 915.7 1886.7 922.0 1889.1 928.3 C1891.4 934.5 1893.7 939.8 1896.1 944.7 C1898.4 949.6 1900.8 953.7 1903.1 957.6 C1905.4 961.4 1907.8 964.6 1910.1 967.6 C1912.4 970.6 1914.8 973.1 1917.1 975.5 C1919.4 977.9 1921.8 980.0 1924.1 982.0 C1926.4 984.0 1928.8 985.7 1931.1 987.4 C1933.4 989.1 1935.8 990.6 1938.1 992.0 C1940.4 993.5 1942.8 994.7 1945.1 996.0 C1947.4 997.2 1949.8 998.3 1952.1 999.4 C1954.4 1000.5 1956.8 1001.5 1959.1 1002.5 C1961.5 1003.4 1963.8 1004.4 1966.1 1005.3 C1968.5 1006.2 1970.8 1007.1 1973.1 1008.0 C1975.5 1008.8 1977.8 1009.7 1980.1 1010.5 C1982.5 1011.3 1984.8 1012.1 1987.1 1012.8 C1989.5 1013.6 1991.8 1014.3 1994.1 1015.0 C1996.5 1015.7 1998.8 1016.4 2001.1 1017.1 C2003.5 1017.7 2005.8 1018.4 2008.1 1019.0 C2010.5 1019.6 2012.8 1020.2 2015.2 1020.8 C2017.5 1021.4 2019.8 1022.0 2022.2 1022.5 C2024.5 1023.1 2026.8 1023.6 2029.2 1024.1 C2031.5 1024.6 2033.8 1025.1 2036.2 1025.6 C2038.5 1026.1 2040.8 1026.6 2043.2 1027.1 C2045.5 1027.5 2047.8 1028.0 2050.2 1028.4 C2052.5 1028.9 2054.8 1029.3 2057.2 1029.7 C2059.5 1030.1 2061.8 1030.5 2064.2 1031.0 C2066.5 1031.4 2068.8 1031.8 2071.2 1032.2 C2073.5 1032.5 2075.9 1032.9 2078.2 1033.3 C2080.5 1033.7 2082.9 1034.1 2085.2 1034.5 C2087.5 1034.8 2089.9 1035.2 2092.2 1035.6 C2094.5 1036.0 2098.0 1036.5 2099.2 1036.7"/>
</g>
<g stroke="#000" fill="none">
<line x1="609.0" y1="299.6" x2="609.0" y2="1196.4" stroke-width="3.3"/>
<line x1="1668.6" y1="296.6" x2="1668.6" y2="1196.4" stroke-width="3.9"/>
<line x1="255" y1="500.6" x2="592" y2="500.6" stroke-width="3.4"/>
<line x1="625" y1="887.7" x2="1650" y2="887.7" stroke-width="3.4"/>
<line x1="1685" y1="446.8" x2="2084" y2="446.8" stroke-width="3.4"/>
</g>
<path d="M240.6 500.6 L268.6 485.6 L258.1 500.6 L268.6 515.6 Z" fill="#000"/>
<path d="M604.6 500.6 L576.6 485.6 L587.1 500.6 L576.6 515.6 Z" fill="#000"/>
<path d="M611.0 887.7 L639.0 872.7 L628.5 887.7 L639.0 902.7 Z" fill="#000"/>
<path d="M1663.6 887.7 L1635.6 872.7 L1646.1 887.7 L1635.6 902.7 Z" fill="#000"/>
<path d="M1671.0 446.8 L1699.0 431.8 L1688.5 446.8 L1699.0 461.8 Z" fill="#000"/>
<path d="M2098.3 446.8 L2070.3 431.8 L2080.8 446.8 L2070.3 461.8 Z" fill="#000"/>
<g stroke="#fff" stroke-width="0.6">
<g font-size="66">
<text x="182.8" y="1220.2" text-anchor="end">0</text>
<text x="182.8" y="1002.1" text-anchor="end">20</text>
<text x="182.8" y="784.0" text-anchor="end">40</text>
<text x="182.8" y="565.9" text-anchor="end">60</text>
<text x="182.8" y="347.8" text-anchor="end">80</text>
<text x="182.8" y="129.7" text-anchor="end">100</text>
<text x="2159" y="1220.5">-50</text>
<text x="2159" y="991.7">0</text>
<text x="2159" y="762.9">50</text>
<text x="2159" y="534.1">100</text>
<text x="2159" y="305.3">150</text>
<text x="2159" y="76.5">200</text>
<text x="238.2" y="1297.3" text-anchor="middle">0</text>
<text x="610.9" y="1297.3" text-anchor="middle">100</text>
<text x="983.7" y="1297.3" text-anchor="middle">200</text>
<text x="1356.4" y="1297.3" text-anchor="middle">300</text>
<text x="1729.2" y="1297.3" text-anchor="middle">400</text>
<text x="2101.9" y="1297.3" text-anchor="middle">500</text>
</g>
<text font-size="66"><tspan x="909.1" y="130.0" textLength="189.7" lengthAdjust="spacingAndGlyphs">Weight</tspan> <tspan x="1121.5" y="130.0" textLength="97.3" lengthAdjust="spacingAndGlyphs">loss</tspan> <tspan x="1241.1" y="130.0" textLength="46.8" lengthAdjust="spacingAndGlyphs">at</tspan> <tspan x="1308.5" y="130.0" textLength="98.8" lengthAdjust="spacingAndGlyphs">100</tspan><tspan x="1405.6" y="121.2" font-size="68" stroke="#fff" stroke-width="1.5">°</tspan><tspan x="1422.9" y="130.0" font-size="73.0" textLength="50.5" lengthAdjust="spacingAndGlyphs">C</tspan><tspan x="1475.4" y="130.0" textLength="19.8" lengthAdjust="spacingAndGlyphs">:</tspan> <tspan x="1506.5" y="130.0" textLength="140.1" lengthAdjust="spacingAndGlyphs">4.4%</tspan></text>
<text font-size="66"><tspan x="655.5" y="1116.4" textLength="395.9" lengthAdjust="spacingAndGlyphs">Decomposition</tspan> <tspan x="1080.8" y="1116.4" textLength="326.7" lengthAdjust="spacingAndGlyphs">temperature:</tspan> <tspan x="1433.6" y="1116.4" textLength="149.6" lengthAdjust="spacingAndGlyphs">185.6</tspan><tspan x="1582.7" y="1107.4" font-size="68" stroke="#fff" stroke-width="1.5">°</tspan><tspan x="1600.0" y="1116.4" font-size="73.0" textLength="50.0" lengthAdjust="spacingAndGlyphs">C</tspan></text>
<text font-size="66"><tspan x="1068.2" y="1396.3" textLength="330.1" lengthAdjust="spacingAndGlyphs">Temperature</tspan> <tspan x="1419.4" y="1396.3" textLength="22.0" lengthAdjust="spacingAndGlyphs">(</tspan><tspan x="1438.8" y="1387.7" font-size="68" stroke="#fff" stroke-width="1.5">°</tspan><tspan x="1456.1" y="1396.3" font-size="73.0" textLength="50.1" lengthAdjust="spacingAndGlyphs">C</tspan><tspan x="1507.6" y="1396.3" textLength="22.3" lengthAdjust="spacingAndGlyphs">)</tspan></text>
<text font-size="66" transform="translate(78.5 0) rotate(-90)"><tspan x="-841.2" y="0.0" textLength="179.5" lengthAdjust="spacingAndGlyphs">Weight</tspan> <tspan x="-635.5" y="0.0" textLength="97.4" lengthAdjust="spacingAndGlyphs">loss</tspan> <tspan x="-515.5" y="0.0" textLength="97.8" lengthAdjust="spacingAndGlyphs">(%)</tspan></text>
<text font-size="66" transform="translate(2350.3 0) rotate(-90)"><tspan x="-885.4" y="0.0" textLength="124.2" lengthAdjust="spacingAndGlyphs">Heat</tspan> <tspan x="-743.5" y="0.0" textLength="117.8" lengthAdjust="spacingAndGlyphs">flow</tspan> <tspan x="-602.5" y="0.0" textLength="126.5" lengthAdjust="spacingAndGlyphs">(µV)</tspan></text>
<text font-size="56"><tspan x="273.3" y="452.5" textLength="279.0" lengthAdjust="spacingAndGlyphs">Dehydration</tspan></text>
<text font-size="56"><tspan x="626.7" y="770.0" textLength="177.9" lengthAdjust="spacingAndGlyphs">Thermal</tspan> <tspan x="830.0" y="770.0" textLength="324.8" lengthAdjust="spacingAndGlyphs">decomposition</tspan> <tspan x="1178.5" y="770.0" textLength="50.0" lengthAdjust="spacingAndGlyphs">of</tspan></text>
<text font-size="56"><tspan x="624.7" y="835.0" textLength="162.8" lengthAdjust="spacingAndGlyphs">organic</tspan> <tspan x="808.1" y="835.0" textLength="265.8" lengthAdjust="spacingAndGlyphs">components</tspan></text>
<text font-size="54.3"><tspan x="1796.9" y="531.1" textLength="106.7" lengthAdjust="spacingAndGlyphs">Char</tspan></text>
<text font-size="54.3"><tspan x="1797.1" y="591.4" textLength="253.9" lengthAdjust="spacingAndGlyphs">combustion</tspan></text>
</g>
</svg></body></html>
